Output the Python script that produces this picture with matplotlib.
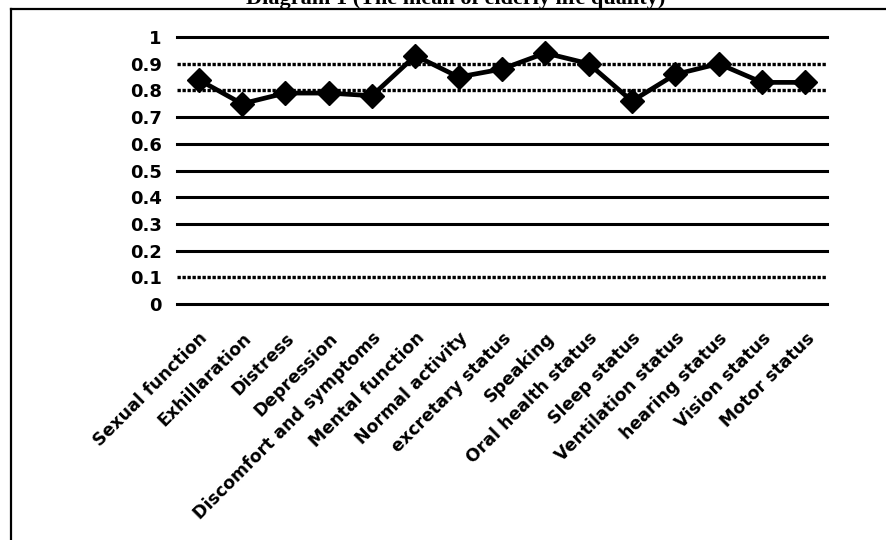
import matplotlib
matplotlib.use("Agg")
import matplotlib.pyplot as plt
from matplotlib.lines import Line2D

# mean life-quality score per domain
domains = [
    "Sexual function", "Exhillaration", "Distress", "Depression",
    "Discomfort and symptoms", "Mental function", "Normal activity",
    "excretary status", "Speaking", "Oral health status", "Sleep status",
    "Ventilation status", "hearing status", "Vision status", "Motor status",
]
means = [0.84, 0.75, 0.79, 0.79, 0.78, 0.93, 0.85, 0.88, 0.94, 0.90,
         0.76, 0.86, 0.90, 0.83, 0.83]
yticks = [0, 0.1, 0.2, 0.3, 0.4, 0.5, 0.6, 0.7, 0.8, 0.9, 1]
ytick_labels = ["0", "0.1", "0.2", "0.3", "0.4", "0.5", "0.6", "0.7",
                "0.8", "0.9", "1"]
dotted_levels = [0.1, 0.8, 0.9]

W, H = 886, 540
fig = plt.figure(figsize=(W / 100, H / 100), dpi=100)

# axes placed in pixel terms
x0, x1, ytop, ybot = 177, 827, 37, 304
ax = fig.add_axes([x0 / W, 1 - ybot / H, (x1 - x0) / W, (ybot - ytop) / H])

font = "DejaVu Sans"

for lvl in yticks:
    if lvl in dotted_levels:
        ax.axhline(lvl, color="black", lw=2.4, ls=(0, (1.0, 0.5)), clip_on=False, zorder=1)
    else:
        ax.axhline(lvl, color="black", lw=2.2, clip_on=False, zorder=1)

xs = list(range(len(domains)))
ax.plot(xs, means, color="black", lw=3.4, marker="D", markersize=12,
        zorder=3, clip_on=False)

ax.set_xlim(-0.5, len(domains) - 0.5)
ax.set_ylim(0, 1)
ax.set_yticks(yticks)
ax.set_yticklabels(ytick_labels, fontsize=13, fontweight="bold", family=font)
ax.set_xticks(xs)
ax.set_xticklabels(domains, rotation=45, ha="right", va="top",
                   rotation_mode="anchor", fontsize=12.5, fontweight="bold",
                   family=font)
ax.tick_params(axis="y", length=0, pad=11)
ax.tick_params(axis="x", length=0, pad=18)
for s in ax.spines.values():
    s.set_visible(False)

# outer frame (top and left edges only)
fig.add_artist(Line2D([11 / W, 1], [1 - 9 / H, 1 - 9 / H], color="black",
                      lw=1.6, transform=fig.transFigure))
fig.add_artist(Line2D([11 / W, 11 / W], [0, 1 - 9 / H], color="black",
                      lw=1.6, transform=fig.transFigure))

fig.text(456 / W, 1 - 4 / H, "Diagram 1 (The mean of elderly life quality)",
         ha="center", va="baseline", fontsize=16, fontweight="bold",
         family="Liberation Serif")

fig.savefig("out.png", dpi=100)
